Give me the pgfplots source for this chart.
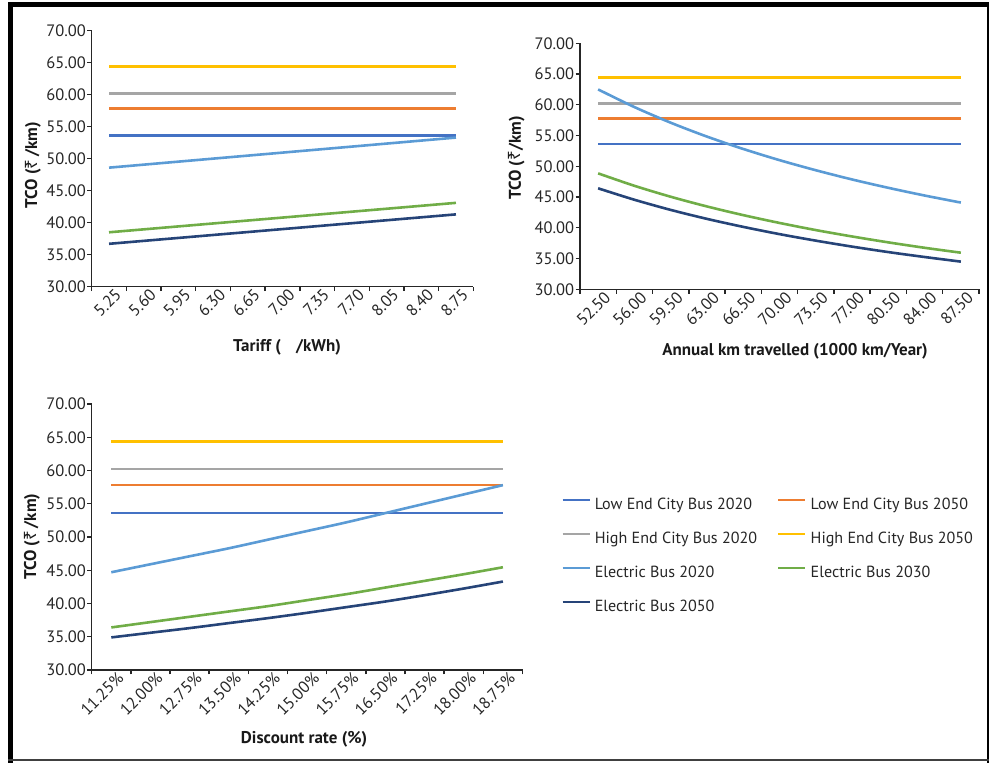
\documentclass[border=0pt]{standalone}
\usepackage{pgfplots}
\pgfplotsset{compat=1.18}
\usepackage{pgfplotstable}
\usepackage{fontspec}
\setmainfont{PT Sans}
\newfontfamily\rupeefont{Noto Sans}

\definecolor{cLEa}{HTML}{4472C4}
\definecolor{cLEb}{HTML}{ED7D31}
\definecolor{cHEa}{HTML}{A5A5A5}
\definecolor{cHEb}{HTML}{FFC000}
\definecolor{cEa}{HTML}{5B9BD5}
\definecolor{cEb}{HTML}{70AD47}
\definecolor{cEc}{HTML}{264478}

% Tariff (Rs/kWh): 5.25 ... 8.75
\pgfplotstableread{
x le20 le50 he20 he50 e20 e30 e50
0 53.6 57.8 60.2 64.4 48.60 38.50 36.70
1 53.6 57.8 60.2 64.4 49.07 38.96 37.16
2 53.6 57.8 60.2 64.4 49.54 39.42 37.62
3 53.6 57.8 60.2 64.4 50.01 39.88 38.08
4 53.6 57.8 60.2 64.4 50.48 40.34 38.54
5 53.6 57.8 60.2 64.4 50.95 40.80 39.00
6 53.6 57.8 60.2 64.4 51.42 41.26 39.46
7 53.6 57.8 60.2 64.4 51.89 41.72 39.92
8 53.6 57.8 60.2 64.4 52.36 42.18 40.38
9 53.6 57.8 60.2 64.4 52.83 42.64 40.84
10 53.6 57.8 60.2 64.4 53.30 43.10 41.30
}\tariff

% Annual km travelled: 52.5 ... 87.5
\pgfplotstableread{
x le20 le50 he20 he50 e20 e30 e50
0 53.6 57.8 60.2 64.4 62.50 48.85 46.42
1 53.6 57.8 60.2 64.4 59.63 46.83 44.56
2 53.6 57.8 60.2 64.4 57.09 45.05 42.91
3 53.6 57.8 60.2 64.4 54.83 43.47 41.45
4 53.6 57.8 60.2 64.4 52.82 42.06 40.15
5 53.6 57.8 60.2 64.4 51.00 40.79 38.97
6 53.6 57.8 60.2 64.4 49.36 39.63 37.91
7 53.6 57.8 60.2 64.4 47.86 38.59 36.94
8 53.6 57.8 60.2 64.4 46.50 37.63 36.05
9 53.6 57.8 60.2 64.4 45.25 36.75 35.25
10 53.6 57.8 60.2 64.4 44.10 35.95 34.50
}\annualkm

% Discount rate: 11.25% ... 18.75%
\pgfplotstableread{
x le20 le50 he20 he50 e20 e30 e50
0 53.6 57.8 60.2 64.4 44.70 36.40 34.90
1 53.6 57.8 60.2 64.4 45.90 37.20 35.60
2 53.6 57.8 60.2 64.4 47.10 38.00 36.30
3 53.6 57.8 60.2 64.4 48.30 38.80 37.05
4 53.6 57.8 60.2 64.4 49.60 39.60 37.80
5 53.6 57.8 60.2 64.4 50.90 40.50 38.60
6 53.6 57.8 60.2 64.4 52.20 41.40 39.45
7 53.6 57.8 60.2 64.4 53.60 42.40 40.30
8 53.6 57.8 60.2 64.4 55.00 43.40 41.25
9 53.6 57.8 60.2 64.4 56.40 44.40 42.25
10 53.6 57.8 60.2 64.4 57.80 45.45 43.30
}\discount

\pgfplotsset{
  tco/.style={
    scale only axis,
    axis x line*=bottom, axis y line*=left,
    axis line style={line width=1.4pt, black!85},
    xmin=-0.5, xmax=10.5, ymin=30, ymax=70,
    xtick={0,...,10},
    minor xtick={-0.5,0.5,...,10.5},
    major x tick style={draw=none},
    minor x tick style={line width=1.4pt, black!85},
    minor tick length=4.5pt,
    ytick={30,35,...,70},
    yticklabels={30.00,35.00,40.00,45.00,50.00,55.00,60.00,65.00,70.00},
    major y tick style={line width=1.4pt, black!85},
    major tick length=4.5pt,
    tick align=outside,
    tick label style={font=\fontsize{16.5}{18}\selectfont, text=black!85},
    y tick label style={inner sep=1.2pt},
    x tick label style={rotate=45, anchor=north east, inner sep=1pt, xshift=7pt},
    label style={font=\bfseries\fontsize{17}{19}\selectfont, text=black!90},
    every axis plot/.append style={line width=2.6pt, no markers},
  }
}

\begin{document}
\begin{tikzpicture}[x=1pt,y=1pt]
\useasboundingbox (0,0) rectangle (989,763);
% frame
\fill[black] (8.3,0) rectangle (13.3,761.3);
\fill[black] (8.3,756.3) rectangle (989,761.3);
\fill[black] (986.5,0) rectangle (989,761.3);
\fill[black!75] (8.3,2) rectangle (989,3.5);

% Chart 1: Tariff
\begin{axis}[tco, at={(91.7pt,476.3pt)}, anchor=south west,
  width=381.6pt, height=256pt,
  xticklabels={5.25,5.60,5.95,6.30,6.65,7.00,7.35,7.70,8.05,8.40,8.75},
  xlabel={Tariff (\hspace{0.9em}/kWh)},
  ylabel={TCO ({\rupeefont ₹}\,/km)},
  x label style={at={(axis description cs:0.512,-0.2355)}, anchor=center},
  y label style={at={(axis description cs:-0.154,0.475)}, anchor=center},
]
\addplot[cLEa] table[x=x,y=le20]{\tariff};
\addplot[cLEb] table[x=x,y=le50]{\tariff};
\addplot[cHEa] table[x=x,y=he20]{\tariff};
\addplot[cHEb] table[x=x,y=he50]{\tariff};
\addplot[cEa] table[x=x,y=e20]{\tariff};
\addplot[cEb] table[x=x,y=e30]{\tariff};
\addplot[cEc] table[x=x,y=e50]{\tariff};
\end{axis}

% Chart 2: Annual km
\begin{axis}[tco, at={(580pt,473.7pt)}, anchor=south west,
  width=399pt, height=246pt,
  xticklabels={52.50,56.00,59.50,63.00,66.50,70.00,73.50,77.00,80.50,84.00,87.50},
  xlabel={Annual km travelled (1000 km/Year)},
  ylabel={TCO ({\rupeefont ₹}/km)},
  x label style={at={(axis description cs:0.539,-0.251)}, anchor=center},
  y label style={at={(axis description cs:-0.159,0.534)}, anchor=center},
]
\addplot[cLEa] table[x=x,y=le20]{\annualkm};
\addplot[cLEb] table[x=x,y=le50]{\annualkm};
\addplot[cHEa] table[x=x,y=he20]{\annualkm};
\addplot[cHEb] table[x=x,y=he50]{\annualkm};
\addplot[cEa, smooth] table[x=x,y=e20]{\annualkm};
\addplot[cEb, smooth] table[x=x,y=e30]{\annualkm};
\addplot[cEc, smooth] table[x=x,y=e50]{\annualkm};
\end{axis}

% Chart 3: Discount rate
\begin{axis}[tco, at={(91.7pt,93pt)}, anchor=south west,
  width=430.8pt, height=266pt,
  xticklabels={11.25\%,12.00\%,12.75\%,13.50\%,14.25\%,15.00\%,15.75\%,16.50\%,17.25\%,18.00\%,18.75\%},
  xlabel={Discount rate (\%)},
  ylabel={TCO ({\rupeefont ₹}\,/km)},
  x label style={at={(axis description cs:0.493,-0.26)}, anchor=center},
  y label style={at={(axis description cs:-0.1386,0.501)}, anchor=center},
  legend columns=2,
  legend cell align=left,
  legend image code/.code={\draw[#1] (0pt,5pt) -- (27pt,5pt);},
  legend style={at={(axis description cs:1.0894,0.6504)}, anchor=north west,
    draw=none, fill=none, inner sep=0pt,
    font=\fontsize{16.1}{18}\selectfont, text=black!85,
    row sep=18pt,
    nodes={inner sep=0pt, text height=12pt, text depth=4pt},
    /tikz/every odd column/.append style={column sep=4pt},
    /tikz/every even column/.append style={column sep=20pt}},
]
\addplot[cLEa] table[x=x,y=le20]{\discount};
\addlegendentry{Low End City Bus 2020}
\addplot[cLEb] table[x=x,y=le50]{\discount};
\addlegendentry{Low End City Bus 2050}
\addplot[cHEa] table[x=x,y=he20]{\discount};
\addlegendentry{High End City Bus 2020}
\addplot[cHEb] table[x=x,y=he50]{\discount};
\addlegendentry{High End City Bus 2050}
\addplot[cEa, smooth] table[x=x,y=e20]{\discount};
\addlegendentry{Electric Bus 2020}
\addplot[cEb, smooth] table[x=x,y=e30]{\discount};
\addlegendentry{Electric Bus 2030}
\addplot[cEc, smooth] table[x=x,y=e50]{\discount};
\addlegendentry{Electric Bus 2050}
\end{axis}
\end{tikzpicture}
\end{document}
